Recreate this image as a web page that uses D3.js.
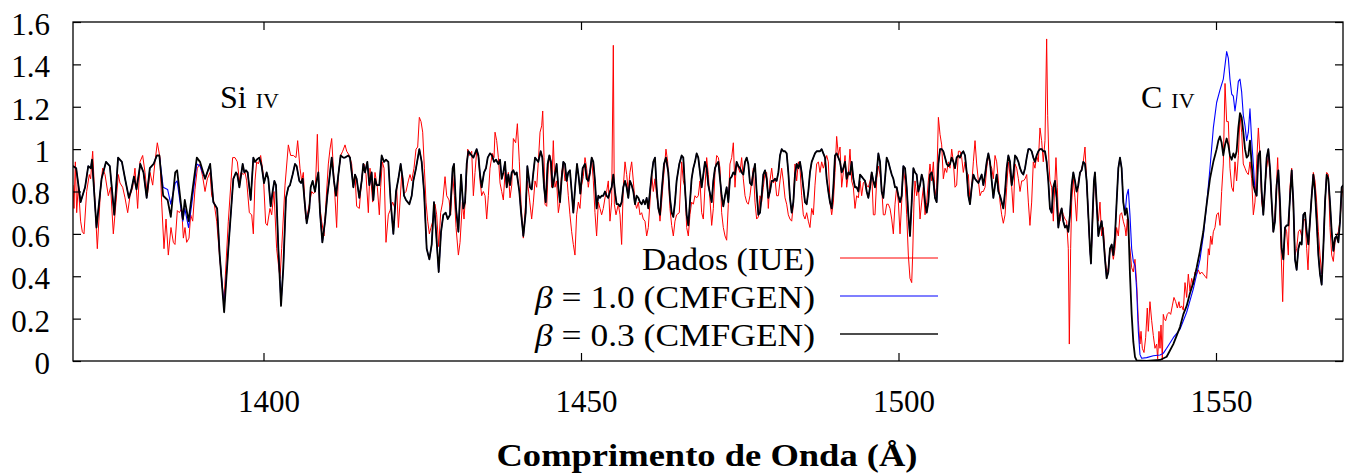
<!DOCTYPE html>
<html><head><meta charset="utf-8">
<script src="https://cdn.jsdelivr.net/npm/d3@7"></script>
<style>
body{margin:0;background:#fff}
svg{display:block}
text{font-family:"Liberation Serif","Times New Roman",serif;fill:#000}
</style>
</head><body>
<svg id="chart" width="1351" height="476"></svg>
<script>
// ---------- data ----------
const wlDomain = [1370, 1570];
const fluxDomain = [0, 1.6];
const wlTicks = [1400, 1450, 1500, 1550];
const fluxTicks = [0, 0.2, 0.4, 0.6, 0.8, 1, 1.2, 1.4, 1.6];
const seriesNames = ["Dados (IUE)", "β = 1.0 (CMFGEN)", "β = 0.3 (CMFGEN)"];

// observed spectrum (IUE) [wavelength Å, normalised flux]
const dadosIUE = [
[1370.0,0.83],[1370.16,0.72],[1370.37,0.94],[1370.58,0.70],[1370.84,0.83],[1371.2,0.66],[1371.47,0.61],[1371.73,0.60],[1372.15,0.80],[1372.57,0.88],[1372.78,0.86],[1373.1,0.99],[1373.46,0.75],[1373.83,0.53],[1374.36,0.82],[1374.67,0.91],[1375.04,0.88],[1375.56,0.78],[1375.93,0.82],[1376.35,0.60],[1376.77,0.75],[1377.14,0.88],[1377.4,0.84],[1377.82,0.82],[1378.19,0.77],[1378.61,0.70],[1378.98,0.78],[1379.4,0.82],[1379.76,0.91],[1380.18,0.72],[1380.55,0.94],[1380.97,0.97],[1381.34,0.89],[1381.7,0.78],[1382.13,0.89],[1382.55,0.83],[1382.91,0.94],[1383.28,1.03],[1383.7,0.96],[1383.96,0.75],[1384.33,0.53],[1384.65,0.67],[1385.01,0.50],[1385.43,0.63],[1385.8,0.56],[1386.06,0.55],[1386.43,0.71],[1386.75,0.70],[1387.11,0.72],[1387.38,0.58],[1387.64,0.63],[1387.9,0.56],[1388.27,0.58],[1388.53,0.69],[1388.85,0.66],[1389.21,0.81],[1389.58,0.91],[1390.0,0.93],[1390.42,0.87],[1390.79,0.80],[1391.16,0.86],[1391.58,0.89],[1391.84,0.78],[1392.2,0.75],[1392.63,0.66],[1393.15,0.47],[1393.75,0.27],
[1394.46,0.66],[1395.14,0.96],[1395.51,0.96],[1395.88,0.94],[1396.2,0.85],[1396.46,0.89],[1396.82,0.88],[1397.09,0.89],[1397.35,0.85],[1397.77,0.70],[1398.14,0.69],[1398.4,0.60],[1398.66,0.85],[1398.92,0.94],[1399.19,0.93],[1399.55,0.97],[1399.97,0.88],[1400.34,0.65],[1400.6,0.64],[1401.02,0.72],[1401.29,0.69],[1401.65,0.80],[1402.07,0.53],[1402.6,0.39],[1402.86,0.53],[1403.39,0.83],[1403.91,1.02],[1404.28,0.97],[1404.7,0.97],[1405.12,0.96],[1405.38,1.04],[1405.75,0.91],[1406.01,0.85],[1406.27,0.89],[1406.64,0.67],[1406.9,0.69],[1407.22,0.74],[1407.59,0.80],[1407.85,0.79],[1408.16,0.80],[1408.48,1.07],[1408.79,0.75],[1409.16,0.66],[1409.53,0.59],[1409.84,0.75],[1410.21,0.93],[1410.47,1.00],[1410.74,1.05],[1411.0,0.91],[1411.26,0.77],[1411.52,0.63],[1411.79,0.88],[1412.15,0.97],[1412.47,0.99],[1412.84,1.02],[1413.1,0.99],[1413.52,0.97],[1413.89,0.93],[1414.15,0.82],[1414.41,0.88],[1414.67,0.73],[1415.09,0.72],[1415.3,0.80],[1415.56,0.88],[1415.83,0.93],[1416.14,0.88],[1416.51,0.70],[1416.77,0.91],[1417.19,0.75],[1417.56,0.89],[1417.93,0.82],[1418.24,0.69],[1418.45,0.82],[1418.71,0.94],[1418.98,0.91],[1419.29,0.56],[1419.66,0.69],[1419.92,0.71],
[1420.34,0.75],[1420.71,0.72],[1420.97,0.82],[1421.24,0.63],[1421.5,0.75],[1421.76,0.88],[1422.13,0.79],[1422.44,0.80],[1422.81,0.85],[1423.07,0.88],[1423.34,0.85],[1423.7,0.91],[1424.02,1.00],[1424.28,1.01],[1424.54,1.15],[1424.81,1.13],[1425.07,1.08],[1425.33,0.91],[1425.59,0.75],[1425.86,0.66],[1426.12,0.60],[1426.38,0.63],[1426.75,0.67],[1427.01,0.74],[1427.27,0.69],[1427.59,0.54],[1427.9,0.70],[1428.22,0.75],[1428.59,0.87],[1428.85,0.78],[1429.22,0.76],[1429.48,0.69],[1429.79,0.88],[1430.06,0.78],[1430.32,0.63],[1430.69,0.50],[1430.95,0.56],[1431.32,0.75],[1431.58,0.67],[1431.89,0.82],[1432.16,1.00],[1432.42,0.97],[1432.79,0.99],[1433.05,0.78],[1433.31,0.89],[1433.57,0.99],[1433.89,0.96],[1434.1,0.85],[1434.36,0.78],[1434.62,0.80],[1434.89,0.78],[1435.15,0.67],[1435.41,0.78],[1435.67,0.91],[1436.04,0.98],[1436.3,0.96],[1436.46,1.08],[1436.72,1.04],[1436.99,0.96],[1437.25,0.84],[1437.51,0.80],[1437.77,0.76],[1438.04,0.89],[1438.3,0.82],[1438.56,0.89],[1438.82,0.77],[1439.09,0.83],[1439.35,1.05],[1439.71,1.03],[1439.98,1.12],[1440.29,0.94],[1440.56,0.74],[1440.92,0.58],[1441.29,0.75],[1441.55,0.85],[1441.87,0.77],[1442.23,0.67],[1442.5,0.75],[1442.76,0.85],[1443.02,0.82],[1443.28,0.94],[1443.55,1.08],[1443.81,1.11],[1443.97,1.18],[1444.18,0.96],[1444.33,0.74],[1444.6,0.73],[1444.86,0.93],[1445.12,0.97],
[1445.38,0.82],[1445.64,1.04],[1445.9,0.82],[1446.16,0.85],[1446.43,0.70],[1446.69,0.75],[1446.95,0.89],[1447.21,0.93],[1447.48,0.85],[1447.74,0.88],[1448.0,0.78],[1448.26,0.69],[1448.53,0.61],[1448.79,0.55],[1449.05,0.50],[1449.31,0.69],[1449.58,0.75],[1449.84,0.72],[1450.1,0.83],[1450.36,0.87],[1450.63,0.96],[1450.89,0.91],[1451.15,0.82],[1451.41,0.88],[1451.68,0.96],[1451.94,0.85],[1452.2,0.70],[1452.46,0.59],[1452.73,0.75],[1452.99,0.72],[1453.25,0.69],[1453.51,0.72],[1453.78,0.77],[1454.04,0.80],[1454.3,0.85],[1454.56,0.66],[1454.83,0.75],[1455.09,1.49],[1455.25,0.74],[1455.51,0.69],[1455.88,0.74],[1456.14,0.69],[1456.4,0.55],[1456.66,0.82],[1456.93,0.94],[1457.19,0.88],[1457.45,0.80],[1457.71,0.89],[1457.98,0.94],[1458.24,0.85],[1458.5,0.75],[1458.76,0.72],[1459.03,0.75],[1459.29,0.69],[1459.55,0.70],[1459.81,0.67],[1460.08,0.66],[1460.34,0.59],[1460.6,0.63],[1460.86,0.75],[1461.13,0.88],[1461.39,0.80],[1461.65,0.86],[1461.91,0.78],[1462.18,0.74],[1462.44,0.66],[1462.7,0.75],[1462.96,0.85],[1463.38,1.00],[1463.65,0.94],[1464.01,0.72],[1464.28,0.64],[1464.54,0.59],[1464.8,0.66],[1465.06,0.69],[1465.48,0.70],[1465.85,0.94],[1466.11,0.85],[1466.37,0.82],[1466.64,0.63],[1466.9,0.59],[1467.16,0.69],[1467.42,0.75],[1467.69,0.74],[1467.95,0.78],[1468.21,0.77],[1468.47,0.78],[1468.74,0.85],[1469.0,0.70],[1469.26,0.67],[1469.52,0.82],[1469.79,0.96],[1470.05,0.88],
[1470.58,0.64],[1470.84,0.72],[1471.1,0.89],[1471.37,0.97],[1471.63,0.96],[1471.89,0.91],[1472.15,0.70],[1472.41,0.63],[1472.68,0.59],[1472.94,0.57],[1473.2,0.74],[1473.46,0.93],[1473.73,0.96],[1473.99,1.03],[1474.25,0.82],[1474.51,0.94],[1474.78,0.91],[1475.04,0.89],[1475.3,0.96],[1475.56,0.86],[1475.83,0.78],[1476.09,0.75],[1476.35,0.74],[1476.61,0.78],[1476.88,0.85],[1477.14,0.91],[1477.4,0.75],[1477.66,0.67],[1477.93,0.68],[1478.19,0.78],[1478.45,0.75],[1478.71,0.82],[1478.98,0.89],[1479.24,0.89],[1479.5,0.72],[1479.76,0.85],[1480.03,0.91],[1480.29,0.84],[1480.55,0.86],[1480.81,0.78],[1481.08,0.78],[1481.34,0.85],[1481.6,0.91],[1481.86,0.85],[1482.13,0.77],[1482.39,0.74],[1482.65,0.69],[1482.91,0.67],[1483.18,0.66],[1483.44,0.74],[1483.7,0.93],[1483.96,0.85],[1484.23,0.94],[1484.49,0.91],[1484.75,0.78],[1485.01,0.69],[1485.28,0.67],[1485.54,0.70],[1485.8,0.66],[1486.06,0.63],[1486.33,0.72],[1486.59,0.69],[1486.85,0.83],[1487.11,0.93],[1487.38,0.94],[1487.64,0.89],[1487.9,0.94],[1488.16,0.91],[1488.43,0.94],[1488.69,0.97],[1488.95,0.94],[1489.21,0.75],[1489.48,0.69],[1489.74,0.75],[1490.0,0.89],[1490.26,1.06],[1490.53,0.97],[1490.79,1.01],[1491.05,0.82],[1491.31,0.89],[1491.58,0.97],[1491.84,0.82],[1492.1,0.88],[1492.36,1.00],[1492.63,0.85],[1492.89,0.82],[1493.15,0.72],[1493.41,0.78],[1493.68,0.77],[1493.94,0.85],[1494.2,0.78],[1494.46,0.84],[1494.73,0.85],[1494.99,0.83],
[1495.25,0.82],[1495.52,0.85],[1495.78,0.89],[1496.04,0.69],[1496.3,0.69],[1496.57,0.86],[1496.83,0.92],[1497.09,0.88],[1497.35,0.82],[1497.61,0.69],[1497.88,0.69],[1498.14,0.74],[1498.4,0.74],[1498.66,0.72],[1498.93,0.67],[1499.19,0.60],[1499.45,0.74],[1499.71,0.82],[1499.98,0.75],[1500.24,0.60],[1500.5,0.75],[1500.76,0.91],[1501.03,0.85],[1501.29,0.69],[1501.55,0.50],[1501.81,0.39],[1502.08,0.37],[1502.23,0.50],[1502.44,0.75],[1502.6,0.85],[1502.86,0.78],[1503.13,0.83],[1503.39,0.67],[1503.65,0.75],[1503.91,0.82],[1504.18,0.69],[1504.44,0.75],[1504.7,0.85],[1504.96,0.93],[1505.23,0.85],[1505.49,0.94],[1505.75,0.78],[1506.01,0.82],[1506.28,1.15],[1506.54,1.07],[1506.8,1.02],[1507.06,0.86],[1507.33,0.91],[1507.59,0.89],[1507.85,0.94],[1508.11,0.91],[1508.38,1.00],[1508.64,0.94],[1508.9,0.82],[1509.16,0.83],[1509.43,0.99],[1509.69,0.99],[1509.95,0.96],[1510.21,0.89],[1510.48,0.94],[1510.74,0.89],[1511.0,0.88],[1511.26,0.75],[1511.53,0.83],[1511.79,0.94],[1512.05,1.04],[1512.31,0.93],[1512.58,0.85],[1512.84,0.78],[1513.1,0.80],[1513.36,0.80],[1513.63,0.82],[1513.89,0.91],[1514.15,0.97],[1514.41,0.93],[1514.68,0.91],[1514.94,0.86],[1515.2,0.97],[1515.46,0.94],[1515.73,0.85],[1515.99,0.75],[1516.25,0.69],[1516.51,0.65],[1516.78,0.69],[1517.04,0.82],[1517.3,0.94],[1517.56,0.88],[1517.83,0.82],[1518.09,0.70],[1518.35,0.93],[1518.61,0.91],[1518.88,0.86],[1519.14,0.80],[1519.4,0.85],[1519.66,0.85],[1519.93,0.86],[1520.19,0.88],[1520.45,0.75],
[1520.7,0.64],[1520.97,0.75],[1521.23,0.94],[1521.49,0.91],[1521.75,0.97],[1522.02,0.94],[1522.28,1.10],[1522.54,1.04],[1522.8,0.94],[1523.07,1.04],[1523.33,1.52],[1523.49,1.16],[1523.7,0.93],[1523.85,0.85],[1524.12,0.82],[1524.38,0.66],[1524.64,0.85],[1524.8,0.96],[1525.01,0.82],[1525.17,0.69],[1525.43,0.66],[1525.69,0.72],[1525.95,0.69],[1526.22,0.67],[1526.48,0.66],[1526.74,0.53],[1526.9,0.08],[1527.11,0.53],[1527.27,0.75],[1527.53,0.86],[1527.79,0.77],[1528.05,0.66],[1528.32,0.85],[1528.58,0.88],[1528.84,0.91],[1529.1,0.94],[1529.37,1.01],[1529.63,0.85],[1529.89,0.69],[1530.15,0.53],[1530.31,0.47],[1530.57,0.66],[1530.78,0.82],[1530.94,0.88],[1531.2,0.72],[1531.47,0.66],[1531.73,0.75],[1531.99,0.59],[1532.25,0.63],[1532.52,0.50],[1532.78,0.41],[1533.04,0.44],[1533.3,0.53],[1533.57,0.53],[1533.83,0.48],[1534.09,0.53],[1534.35,0.63],[1534.62,0.59],[1534.88,0.69],[1535.14,0.70],[1535.4,0.66],[1535.67,0.63],[1535.83,0.59],[1536.03,0.67],[1536.24,0.58],[1536.45,0.53],[1536.72,0.44],[1536.98,0.42],[1537.24,0.48],[1537.5,0.37],[1537.77,0.19],[1538.03,0.08],[1538.19,0.14],[1538.4,0.06],[1538.66,0.04],[1538.92,0.11],[1539.18,0.25],[1539.34,0.14],[1539.6,0.28],[1539.87,0.19],[1540.13,0.12],[1540.39,0.06],[1540.65,0.08],[1540.81,0.01],[1541.02,0.14],[1541.18,0.06],[1541.34,0.17],[1541.55,0.005],[1541.7,0.22],[1541.86,0.20],[1542.07,0.19],[1542.33,0.22],[1542.6,0.23],[1542.86,0.22],[1543.12,0.26],[1543.38,0.30],[1543.65,0.28],[1543.91,0.25],[1544.17,0.28],
[1544.33,0.25],[1544.59,0.26],[1544.85,0.24],[1545.12,0.37],[1545.38,0.30],[1545.64,0.41],[1545.9,0.33],[1546.17,0.39],[1546.43,0.36],[1546.69,0.42],[1546.95,0.41],[1547.22,0.43],[1547.48,0.41],[1547.74,0.42],[1548.0,0.41],[1548.27,0.40],[1548.53,0.39],[1548.79,0.53],[1548.95,0.50],[1549.16,0.59],[1549.37,0.55],[1549.58,0.61],[1549.84,0.63],[1550.1,0.69],[1550.37,0.70],[1550.63,0.64],[1550.89,0.80],[1551.15,0.93],[1551.42,1.31],[1551.68,1.13],[1551.94,1.13],[1552.2,0.91],[1552.47,0.82],[1552.73,0.80],[1552.99,0.94],[1553.25,0.85],[1553.52,0.97],[1553.78,1.16],[1554.04,1.08],[1554.3,0.93],[1554.57,0.91],[1554.83,0.89],[1555.09,0.88],[1555.35,0.94],[1555.62,0.86],[1555.88,0.69],[1556.14,0.75],[1556.4,0.93],[1556.67,1.10],[1556.93,0.97],[1557.19,0.75],[1557.45,0.70],[1557.72,0.83],[1557.98,0.91],[1558.24,0.97],[1558.5,0.89],[1558.77,0.74],[1559.03,0.61],[1559.29,0.70],[1559.55,0.85],[1559.71,0.96],[1559.97,0.75],[1560.24,0.53],[1560.5,0.28],[1560.71,0.53],[1560.92,0.63],[1561.13,0.61],[1561.39,0.50],[1561.65,0.82],[1561.92,0.91],[1562.18,0.72],[1562.44,0.50],[1562.7,0.53],[1562.97,0.61],[1563.23,0.62],[1563.49,0.59],[1563.75,0.66],[1564.02,0.67],[1564.28,0.53],[1564.49,0.43],[1564.8,0.66],[1565.07,0.78],[1565.33,0.89],[1565.59,0.85],[1565.85,0.75],[1566.12,0.61],[1566.38,0.50],[1566.64,0.41],[1566.9,0.53],[1567.17,0.75],[1567.43,0.89],[1567.69,0.88],[1567.95,0.63],[1568.22,0.50],[1568.48,0.47],[1568.74,0.56],[1569.0,0.59],[1569.27,0.61],[1569.53,0.66],[1569.79,0.77],[1570.05,0.83]
];

// CMFGEN model, beta = 1.0
const beta10 = [
[1370.0,0.92],[1370.5,0.91],[1371.2,0.75],[1371.9,0.82],[1372.4,0.92],[1372.8,0.91],[1373.0,0.95],[1373.7,0.63],[1374.5,0.86],[1375.2,0.94],[1375.8,0.92],[1376.5,0.69],[1377.1,0.96],[1377.7,0.94],[1378.2,0.86],[1378.8,0.77],[1379.2,0.81],[1379.6,0.87],[1380.0,0.81],[1380.6,0.93],[1381.1,0.89],[1381.6,0.77],[1382.1,0.91],[1382.7,0.93],[1383.2,0.97],[1383.6,0.97],[1384.2,0.82],[1384.9,0.81],[1385.4,0.74],[1386.1,0.84],[1386.4,0.85],[1387.0,0.72],[1387.3,0.66],[1387.6,0.72],[1388.2,0.63],[1388.7,0.74],[1389.5,0.93],[1390.0,0.92],[1390.8,0.86],[1391.6,0.93],[1392.1,0.75],[1392.7,0.72],[1393.1,0.50],[1393.8,0.25],
[1394.46,0.53],[1395.25,0.86],[1395.67,0.89],[1395.88,0.88],[1396.2,0.82],[1396.72,0.93],[1396.98,0.89],[1397.24,0.90],[1397.51,0.89],[1397.98,0.76],[1398.4,0.96],[1398.66,0.94],[1398.92,0.95],[1399.34,0.96],[1399.71,0.92],[1400.08,0.84],[1400.5,0.89],[1400.76,0.86],[1401.13,0.73],[1401.44,0.80],[1401.71,0.85],[1401.97,0.83],[1402.34,0.53],[1402.76,0.27],[1403.12,0.44],[1403.54,0.77],[1403.91,0.82],[1404.17,0.83],[1404.59,0.88],[1404.96,0.93],[1405.22,0.92],[1405.64,0.85],[1405.91,0.84],[1406.17,0.86],[1406.48,0.75],[1406.8,0.65],[1407.22,0.72],[1407.43,0.82],[1407.74,0.85],[1408.11,0.80],[1408.37,0.85],[1408.64,0.89],[1408.9,0.70],[1409.27,0.56],[1409.69,0.66],[1410.05,0.78],[1410.37,0.86],[1410.74,0.96],[1411.1,0.85],[1411.42,0.78],[1411.79,0.88],[1412.15,0.97],[1412.57,0.96],[1412.84,0.96],[1413.36,0.97],[1413.62,0.96],[1413.89,0.89],[1414.15,0.82],[1414.41,0.88],[1414.67,0.86],[1415.09,0.77],[1415.46,0.85],[1415.72,0.93],[1415.99,0.89],[1416.35,0.94],[1416.67,0.83],[1417.03,0.89],[1417.3,0.76],[1417.56,0.86],[1417.82,0.83],[1418.24,0.83],[1418.61,0.97],
[1418.98,0.94],[1419.29,0.95],[1419.66,0.94],[1420.03,0.75],[1420.45,0.60],[1420.87,0.80],[1421.24,0.86],[1421.6,0.93],[1421.92,0.86],[1422.13,0.78],[1422.44,0.76],[1422.71,0.75],[1422.97,0.74],[1423.34,0.78],[1423.6,0.85],[1424.02,0.91],[1424.54,1.00],[1424.91,0.94],[1425.28,0.80],[1425.7,0.53],[1426.12,0.48],[1426.49,0.55],[1426.85,0.75],[1427.17,0.61],[1427.59,0.42],[1427.96,0.61],[1428.32,0.69],[1428.69,0.70],[1429.01,0.67],[1429.37,0.69],[1429.79,0.91],[1430.0,0.93],[1430.32,0.72],[1430.69,0.61],[1431.11,0.88],[1431.47,0.72],[1431.74,0.75],[1432.0,0.93],[1432.26,0.99],[1432.52,0.98],[1432.79,0.97],[1433.05,0.96],[1433.31,0.98],[1433.57,1.00],[1433.84,0.97],[1434.1,0.88],[1434.36,0.82],[1434.73,0.89],[1435.04,0.91],[1435.31,0.96],[1435.67,0.98],[1435.99,0.97],[1436.3,0.94],[1436.62,0.95],[1436.99,0.93],[1437.25,0.95],[1437.51,0.86],[1437.77,0.89],[1438.04,0.94],[1438.3,0.82],[1438.56,0.88],[1438.82,0.83],[1439.09,0.89],[1439.35,0.90],[1439.61,0.88],[1439.87,0.89],[1440.29,0.80],[1440.56,0.70],[1440.92,0.59],[1441.29,0.70],[1441.55,0.92],[1441.97,0.82],[1442.23,0.81],[1442.5,0.89],[1442.76,0.96],[1443.02,0.95],[1443.28,0.94],[1443.65,0.99],[1443.91,0.96],[1444.18,0.82],[1444.44,0.75],[1444.75,0.93],[1445.01,0.97],
[1445.27,0.94],[1445.53,0.82],[1445.9,0.88],[1446.16,0.93],[1446.43,0.82],[1446.69,0.75],[1446.95,0.86],[1447.21,0.94],[1447.48,0.93],[1447.74,0.85],[1448.0,0.89],[1448.26,0.90],[1448.53,0.80],[1448.79,0.70],[1449.1,0.83],[1449.37,0.93],[1449.63,0.87],[1449.89,0.79],[1450.26,0.91],[1450.63,0.93],[1450.89,0.86],[1451.15,0.85],[1451.41,0.89],[1451.68,0.96],[1451.94,0.94],[1452.2,0.85],[1452.46,0.72],[1452.73,0.78],[1452.99,0.77],[1453.25,0.78],[1453.51,0.78],[1453.78,0.80],[1454.04,0.78],[1454.3,0.77],[1454.56,0.80],[1454.83,0.82],[1455.09,0.88],[1455.35,0.80],[1455.61,0.74],[1455.88,0.74],[1456.14,0.73],[1456.4,0.75],[1456.66,0.82],[1456.93,0.85],[1457.19,0.82],[1457.45,0.77],[1457.71,0.85],[1457.98,0.83],[1458.24,0.80],[1458.5,0.74],[1458.76,0.78],[1459.03,0.77],[1459.29,0.75],[1459.55,0.74],[1459.81,0.76],[1460.08,0.74],[1460.34,0.77],[1460.6,0.72],[1460.86,0.80],[1461.13,0.88],[1461.39,0.94],[1461.65,0.96],[1461.91,0.82],[1462.18,0.72],[1462.44,0.69],[1462.7,0.80],[1463.07,0.93],[1463.38,0.96],[1463.75,0.89],[1464.01,0.77],[1464.28,0.70],[1464.54,0.68],[1464.8,0.75],[1465.06,0.85],[1465.48,0.93],[1465.85,0.97],[1466.11,0.96],[1466.37,0.82],[1466.64,0.69],[1466.9,0.64],[1467.16,0.75],[1467.42,0.86],[1467.69,0.91],[1467.95,0.94],[1468.21,0.98],[1468.47,0.96],[1468.74,0.89],[1469.0,0.82],[1469.26,0.88],[1469.52,0.94],[1469.79,0.91],[1470.05,0.83],
[1470.58,0.75],[1470.84,0.85],[1471.1,0.91],[1471.37,0.93],[1471.63,0.94],[1471.89,0.86],[1472.15,0.78],[1472.41,0.73],[1472.68,0.78],[1472.94,0.82],[1473.2,0.75],[1473.46,0.86],[1473.73,0.87],[1473.99,0.89],[1474.25,0.88],[1474.51,0.94],[1474.78,0.92],[1475.04,0.91],[1475.3,0.89],[1475.56,0.88],[1475.83,0.94],[1476.09,0.96],[1476.35,0.93],[1476.61,0.84],[1476.88,0.83],[1477.14,0.89],[1477.4,0.93],[1477.66,0.80],[1477.93,0.69],[1478.19,0.70],[1478.45,0.78],[1478.71,0.88],[1478.98,0.90],[1479.24,0.86],[1479.5,0.77],[1479.76,0.80],[1480.03,0.85],[1480.29,0.85],[1480.55,0.86],[1480.81,0.85],[1481.08,0.89],[1481.34,0.97],[1481.6,1.00],[1481.86,0.99],[1482.13,0.99],[1482.39,0.98],[1482.65,0.89],[1482.91,0.77],[1483.18,0.70],[1483.44,0.75],[1483.7,0.88],[1483.96,0.93],[1484.23,0.91],[1484.49,0.94],[1484.75,0.89],[1485.01,0.82],[1485.28,0.75],[1485.54,0.74],[1485.8,0.80],[1486.06,0.89],[1486.33,0.94],[1486.59,0.96],[1486.85,0.98],[1487.11,0.99],[1487.38,0.99],[1487.64,0.99],[1487.9,1.00],[1488.16,0.98],[1488.43,0.96],[1488.69,0.86],[1488.95,0.80],[1489.21,0.75],[1489.48,0.72],[1489.74,0.82],[1490.0,0.97],[1490.26,0.98],[1490.53,0.96],[1490.79,0.94],[1491.05,0.89],[1491.31,0.91],[1491.58,0.94],[1491.84,0.86],[1492.1,0.89],[1492.36,0.88],[1492.63,0.94],[1492.89,0.86],[1493.15,0.82],[1493.41,0.82],[1493.68,0.80],[1493.94,0.88],[1494.2,0.87],[1494.46,0.86],[1494.73,0.85],
[1494.99,0.80],[1495.25,0.77],[1495.52,0.82],[1495.78,0.89],[1496.04,0.85],[1496.3,0.82],[1496.57,0.89],[1496.83,0.98],[1497.09,0.94],[1497.35,0.80],[1497.61,0.77],[1497.88,0.86],[1498.14,0.96],[1498.4,0.94],[1498.66,0.91],[1498.93,0.88],[1499.19,0.86],[1499.45,0.82],[1499.71,0.82],[1499.98,0.78],[1500.24,0.75],[1500.5,0.78],[1500.76,0.92],[1501.03,0.91],[1501.29,0.82],[1501.55,0.69],[1501.81,0.59],[1502.08,0.75],[1502.34,0.91],[1502.6,0.89],[1502.86,0.88],[1503.13,0.80],[1503.39,0.83],[1503.65,0.88],[1503.91,0.85],[1504.18,0.75],[1504.44,0.70],[1504.7,0.75],[1504.96,0.88],[1505.23,0.89],[1505.49,0.85],[1505.75,0.77],[1506.01,0.75],[1506.28,0.93],[1506.54,1.00],[1506.8,1.00],[1507.06,0.99],[1507.33,0.96],[1507.59,0.93],[1507.85,0.92],[1508.11,0.93],[1508.38,0.96],[1508.64,0.94],[1508.9,0.91],[1509.16,0.96],[1509.43,0.97],[1509.69,0.96],[1509.95,0.98],[1510.21,0.99],[1510.48,0.97],[1510.74,0.89],[1511.0,0.78],[1511.26,0.74],[1511.53,0.82],[1511.79,0.88],[1512.05,0.86],[1512.31,0.85],[1512.58,0.84],[1512.84,0.86],[1513.1,0.88],[1513.36,0.83],[1513.63,0.88],[1513.89,0.94],[1514.15,0.98],[1514.41,0.94],[1514.68,0.85],[1514.94,0.77],[1515.2,0.83],[1515.46,0.88],[1515.73,0.80],[1515.99,0.78],[1516.25,0.75],[1516.51,0.72],[1516.78,0.80],[1517.04,0.91],[1517.3,0.97],[1517.56,0.94],[1517.83,0.83],[1518.09,0.88],[1518.35,0.97],[1518.61,0.96],[1518.88,0.94],[1519.14,0.91],[1519.4,0.89],[1519.66,0.88],[1519.93,0.91],[1520.19,0.96],[1520.45,1.00],
[1520.7,1.00],[1520.97,0.99],[1521.23,0.96],[1521.49,0.94],[1521.75,0.97],[1522.02,0.99],[1522.28,1.00],[1522.54,1.00],[1522.8,0.99],[1523.07,0.99],[1523.33,0.94],[1523.59,0.85],[1523.85,0.72],[1524.12,0.70],[1524.38,0.82],[1524.64,0.85],[1524.9,0.77],[1525.17,0.63],[1525.43,0.69],[1525.69,0.72],[1525.95,0.66],[1526.22,0.63],[1526.48,0.64],[1526.74,0.61],[1527.0,0.69],[1527.27,0.83],[1527.53,0.89],[1527.79,0.85],[1528.05,0.80],[1528.32,0.83],[1528.58,0.89],[1528.84,0.90],[1529.1,0.94],[1529.37,0.93],[1529.63,0.85],[1529.89,0.69],[1530.15,0.53],[1530.31,0.46],[1530.57,0.69],[1530.78,0.85],[1530.94,0.89],[1531.2,0.75],[1531.47,0.59],[1531.73,0.63],[1531.99,0.66],[1532.25,0.59],[1532.52,0.48],[1532.78,0.39],[1533.04,0.42],[1533.3,0.53],[1533.57,0.55],[1533.83,0.50],[1534.09,0.59],[1534.35,0.75],[1534.62,0.91],[1534.88,0.96],[1535.14,0.91],[1535.4,0.75],[1535.67,0.69],[1535.93,0.78],[1536.19,0.81],[1536.45,0.69],[1536.72,0.53],[1536.98,0.47],[1537.24,0.45],[1537.5,0.34],[1537.77,0.14],[1538.03,0.03],[1538.29,0.013],[1539.08,0.016],[1540.13,0.025],[1541.18,0.028],[1541.7,0.036],[1542.23,0.06],[1543.28,0.11],
[1544.33,0.15],[1545.38,0.23],[1546.43,0.34],[1547.48,0.48],[1548.0,0.59],[1548.53,0.74],[1549.05,0.91],[1549.58,1.10],[1550.1,1.22],[1550.63,1.28],[1551.15,1.33],[1551.68,1.46],[1551.94,1.43],[1552.2,1.33],[1552.47,1.26],[1552.73,1.25],[1552.99,1.18],[1553.25,1.24],[1553.52,1.32],[1553.78,1.33],[1554.04,1.27],[1554.3,1.16],[1554.57,1.11],[1554.83,1.04],[1555.09,1.08],[1555.35,1.19],[1555.62,1.04],[1555.88,0.93],[1556.14,0.80],[1556.4,0.78],[1556.67,0.97],[1556.93,0.99],[1557.19,0.80],[1557.45,0.69],[1557.72,0.82],[1557.98,0.96],[1558.24,1.00],[1558.5,0.91],[1558.77,0.75],[1559.03,0.61],[1559.29,0.66],[1559.55,0.83],[1559.82,0.90],[1560.08,0.75],[1560.34,0.53],[1560.6,0.48],[1560.87,0.63],[1561.13,0.64],[1561.39,0.64],[1561.65,0.77],[1561.92,0.90],[1562.18,0.75],[1562.44,0.48],[1562.7,0.43],[1562.97,0.53],[1563.23,0.56],[1563.49,0.55],[1563.75,0.69],[1564.02,0.70],[1564.28,0.61],[1564.54,0.55],[1564.8,0.66],[1565.07,0.78],[1565.33,0.88],[1565.59,0.80],[1565.85,0.66],[1566.12,0.50],[1566.38,0.41],[1566.64,0.36],[1566.9,0.53],[1567.17,0.75],[1567.43,0.88],[1567.69,0.86],[1567.95,0.75],[1568.22,0.61],[1568.48,0.52],[1568.74,0.58],[1569.0,0.59],[1569.27,0.56],[1569.53,0.66],[1569.79,0.82],[1570.05,0.83]
];

// CMFGEN model, beta = 0.3
const beta03 = [
[1370.0,0.92],[1370.5,0.91],[1371.2,0.75],[1371.9,0.82],[1372.4,0.92],[1372.8,0.91],[1373.0,0.95],[1373.7,0.63],[1374.5,0.86],[1375.2,0.94],[1375.8,0.92],[1376.5,0.69],[1377.1,0.96],[1377.7,0.94],[1378.2,0.86],[1378.8,0.77],[1379.2,0.81],[1379.6,0.87],[1380.0,0.81],[1380.6,0.93],[1381.1,0.89],[1381.6,0.77],[1382.1,0.91],[1382.7,0.93],[1383.2,0.97],[1383.6,0.97],[1384.2,0.78],[1384.9,0.76],[1385.4,0.68],[1386.1,0.89],[1386.4,0.90],[1387.0,0.74],[1387.3,0.67],[1387.6,0.76],[1388.2,0.66],[1388.7,0.78],[1389.5,0.96],[1390.0,0.94],[1390.8,0.86],[1391.6,0.93],[1392.1,0.75],[1392.7,0.72],[1393.1,0.50],[1393.8,0.23],
[1394.46,0.53],[1395.25,0.86],[1395.67,0.89],[1395.88,0.88],[1396.2,0.82],[1396.72,0.93],[1396.98,0.89],[1397.24,0.90],[1397.51,0.89],[1397.98,0.76],[1398.4,0.96],[1398.66,0.94],[1398.92,0.95],[1399.34,0.96],[1399.71,0.92],[1400.08,0.84],[1400.5,0.89],[1400.76,0.86],[1401.13,0.73],[1401.44,0.80],[1401.71,0.85],[1401.97,0.83],[1402.34,0.53],[1402.76,0.26],[1403.12,0.44],[1403.54,0.77],[1403.91,0.82],[1404.17,0.83],[1404.59,0.88],[1404.96,0.93],[1405.22,0.92],[1405.64,0.85],[1405.91,0.84],[1406.17,0.86],[1406.48,0.75],[1406.8,0.65],[1407.22,0.72],[1407.43,0.82],[1407.74,0.85],[1408.11,0.80],[1408.37,0.85],[1408.64,0.89],[1408.9,0.70],[1409.27,0.56],[1409.69,0.66],[1410.05,0.78],[1410.37,0.86],[1410.74,0.96],[1411.1,0.85],[1411.42,0.78],[1411.79,0.88],[1412.15,0.97],[1412.57,0.96],[1412.84,0.96],[1413.36,0.97],[1413.62,0.96],[1413.89,0.89],[1414.15,0.82],[1414.41,0.88],[1414.67,0.86],[1415.09,0.77],[1415.46,0.85],[1415.72,0.93],[1415.99,0.89],[1416.35,0.94],[1416.67,0.83],[1417.03,0.89],[1417.3,0.76],[1417.56,0.86],[1417.82,0.83],[1418.24,0.83],[1418.61,0.97],
[1418.98,0.94],[1419.29,0.95],[1419.66,0.94],[1420.03,0.75],[1420.45,0.60],[1420.87,0.80],[1421.24,0.86],[1421.6,0.93],[1421.92,0.86],[1422.13,0.78],[1422.44,0.76],[1422.71,0.75],[1422.97,0.74],[1423.34,0.78],[1423.6,0.85],[1424.02,0.91],[1424.54,1.00],[1424.91,0.94],[1425.28,0.80],[1425.7,0.53],[1426.12,0.48],[1426.49,0.55],[1426.85,0.75],[1427.17,0.61],[1427.59,0.42],[1427.96,0.61],[1428.32,0.69],[1428.69,0.70],[1429.01,0.67],[1429.37,0.69],[1429.79,0.91],[1430.0,0.93],[1430.32,0.72],[1430.69,0.61],[1431.11,0.88],[1431.47,0.72],[1431.74,0.75],[1432.0,0.93],[1432.26,0.99],[1432.52,0.98],[1432.79,0.97],[1433.05,0.96],[1433.31,0.98],[1433.57,1.00],[1433.84,0.97],[1434.1,0.88],[1434.36,0.82],[1434.73,0.89],[1435.04,0.91],[1435.31,0.96],[1435.67,0.98],[1435.99,0.97],[1436.3,0.94],[1436.62,0.95],[1436.99,0.93],[1437.25,0.95],[1437.51,0.86],[1437.77,0.89],[1438.04,0.94],[1438.3,0.82],[1438.56,0.88],[1438.82,0.83],[1439.09,0.89],[1439.35,0.90],[1439.61,0.88],[1439.87,0.89],[1440.29,0.80],[1440.56,0.70],[1440.92,0.59],[1441.29,0.70],[1441.55,0.92],[1441.97,0.82],[1442.23,0.81],[1442.5,0.89],[1442.76,0.96],[1443.02,0.95],[1443.28,0.94],[1443.65,0.99],[1443.91,0.96],[1444.18,0.82],[1444.44,0.75],[1444.75,0.93],[1445.01,0.97],
[1445.27,0.94],[1445.53,0.82],[1445.9,0.88],[1446.16,0.93],[1446.43,0.82],[1446.69,0.75],[1446.95,0.86],[1447.21,0.94],[1447.48,0.93],[1447.74,0.85],[1448.0,0.89],[1448.26,0.90],[1448.53,0.80],[1448.79,0.70],[1449.1,0.83],[1449.37,0.93],[1449.63,0.87],[1449.89,0.79],[1450.26,0.91],[1450.63,0.93],[1450.89,0.86],[1451.15,0.85],[1451.41,0.89],[1451.68,0.96],[1451.94,0.94],[1452.2,0.85],[1452.46,0.72],[1452.73,0.78],[1452.99,0.77],[1453.25,0.78],[1453.51,0.78],[1453.78,0.80],[1454.04,0.78],[1454.3,0.77],[1454.56,0.80],[1454.83,0.82],[1455.09,0.88],[1455.35,0.80],[1455.61,0.74],[1455.88,0.74],[1456.14,0.73],[1456.4,0.75],[1456.66,0.82],[1456.93,0.85],[1457.19,0.82],[1457.45,0.77],[1457.71,0.85],[1457.98,0.83],[1458.24,0.80],[1458.5,0.74],[1458.76,0.78],[1459.03,0.77],[1459.29,0.75],[1459.55,0.74],[1459.81,0.76],[1460.08,0.74],[1460.34,0.77],[1460.6,0.72],[1460.86,0.80],[1461.13,0.88],[1461.39,0.94],[1461.65,0.96],[1461.91,0.82],[1462.18,0.72],[1462.44,0.69],[1462.7,0.80],[1463.07,0.93],[1463.38,0.96],[1463.75,0.89],[1464.01,0.77],[1464.28,0.70],[1464.54,0.68],[1464.8,0.75],[1465.06,0.85],[1465.48,0.93],[1465.85,0.97],[1466.11,0.96],[1466.37,0.82],[1466.64,0.69],[1466.9,0.64],[1467.16,0.75],[1467.42,0.86],[1467.69,0.91],[1467.95,0.94],[1468.21,0.98],[1468.47,0.96],[1468.74,0.89],[1469.0,0.82],[1469.26,0.88],[1469.52,0.94],[1469.79,0.91],[1470.05,0.83],
[1470.58,0.75],[1470.84,0.85],[1471.1,0.91],[1471.37,0.93],[1471.63,0.94],[1471.89,0.86],[1472.15,0.78],[1472.41,0.73],[1472.68,0.78],[1472.94,0.82],[1473.2,0.75],[1473.46,0.86],[1473.73,0.87],[1473.99,0.89],[1474.25,0.88],[1474.51,0.94],[1474.78,0.92],[1475.04,0.91],[1475.3,0.89],[1475.56,0.88],[1475.83,0.94],[1476.09,0.96],[1476.35,0.93],[1476.61,0.84],[1476.88,0.83],[1477.14,0.89],[1477.4,0.93],[1477.66,0.80],[1477.93,0.69],[1478.19,0.70],[1478.45,0.78],[1478.71,0.88],[1478.98,0.90],[1479.24,0.86],[1479.5,0.77],[1479.76,0.80],[1480.03,0.85],[1480.29,0.85],[1480.55,0.86],[1480.81,0.85],[1481.08,0.89],[1481.34,0.97],[1481.6,1.00],[1481.86,0.99],[1482.13,0.99],[1482.39,0.98],[1482.65,0.89],[1482.91,0.77],[1483.18,0.70],[1483.44,0.75],[1483.7,0.88],[1483.96,0.93],[1484.23,0.91],[1484.49,0.94],[1484.75,0.89],[1485.01,0.82],[1485.28,0.75],[1485.54,0.74],[1485.8,0.80],[1486.06,0.89],[1486.33,0.94],[1486.59,0.96],[1486.85,0.98],[1487.11,0.99],[1487.38,0.99],[1487.64,0.99],[1487.9,1.00],[1488.16,0.98],[1488.43,0.96],[1488.69,0.86],[1488.95,0.80],[1489.21,0.75],[1489.48,0.72],[1489.74,0.82],[1490.0,0.97],[1490.26,0.98],[1490.53,0.96],[1490.79,0.94],[1491.05,0.89],[1491.31,0.91],[1491.58,0.94],[1491.84,0.86],[1492.1,0.89],[1492.36,0.88],[1492.63,0.94],[1492.89,0.86],[1493.15,0.82],[1493.41,0.82],[1493.68,0.80],[1493.94,0.88],[1494.2,0.87],[1494.46,0.86],[1494.73,0.85],
[1494.99,0.80],[1495.25,0.77],[1495.52,0.82],[1495.78,0.89],[1496.04,0.85],[1496.3,0.82],[1496.57,0.89],[1496.83,0.98],[1497.09,0.94],[1497.35,0.80],[1497.61,0.77],[1497.88,0.86],[1498.14,0.96],[1498.4,0.94],[1498.66,0.91],[1498.93,0.88],[1499.19,0.86],[1499.45,0.82],[1499.71,0.82],[1499.98,0.78],[1500.24,0.75],[1500.5,0.78],[1500.76,0.92],[1501.03,0.91],[1501.29,0.82],[1501.55,0.69],[1501.81,0.59],[1502.08,0.75],[1502.34,0.91],[1502.6,0.89],[1502.86,0.88],[1503.13,0.80],[1503.39,0.83],[1503.65,0.88],[1503.91,0.85],[1504.18,0.75],[1504.44,0.70],[1504.7,0.75],[1504.96,0.88],[1505.23,0.89],[1505.49,0.85],[1505.75,0.77],[1506.01,0.75],[1506.28,0.93],[1506.54,1.00],[1506.8,1.00],[1507.06,0.99],[1507.33,0.96],[1507.59,0.93],[1507.85,0.92],[1508.11,0.93],[1508.38,0.96],[1508.64,0.94],[1508.9,0.91],[1509.16,0.96],[1509.43,0.97],[1509.69,0.96],[1509.95,0.98],[1510.21,0.99],[1510.48,0.97],[1510.74,0.89],[1511.0,0.78],[1511.26,0.74],[1511.53,0.82],[1511.79,0.88],[1512.05,0.86],[1512.31,0.85],[1512.58,0.84],[1512.84,0.86],[1513.1,0.88],[1513.36,0.83],[1513.63,0.88],[1513.89,0.94],[1514.15,0.98],[1514.41,0.94],[1514.68,0.85],[1514.94,0.77],[1515.2,0.83],[1515.46,0.88],[1515.73,0.80],[1515.99,0.78],[1516.25,0.75],[1516.51,0.72],[1516.78,0.80],[1517.04,0.91],[1517.3,0.97],[1517.56,0.94],[1517.83,0.83],[1518.09,0.88],[1518.35,0.97],[1518.61,0.96],[1518.88,0.94],[1519.14,0.91],[1519.4,0.89],[1519.66,0.88],[1519.93,0.91],[1520.19,0.96],[1520.45,1.00],
[1520.7,1.00],[1520.97,0.99],[1521.23,0.96],[1521.49,0.94],[1521.75,0.97],[1522.02,0.99],[1522.28,1.00],[1522.54,1.00],[1522.8,0.99],[1523.07,0.99],[1523.33,0.94],[1523.59,0.85],[1523.85,0.72],[1524.12,0.70],[1524.38,0.82],[1524.64,0.85],[1524.9,0.77],[1525.17,0.63],[1525.43,0.69],[1525.69,0.72],[1525.95,0.66],[1526.22,0.63],[1526.48,0.64],[1526.74,0.61],[1527.0,0.69],[1527.27,0.83],[1527.53,0.89],[1527.79,0.85],[1528.05,0.80],[1528.32,0.83],[1528.58,0.89],[1528.84,0.90],[1529.1,0.94],[1529.37,0.93],[1529.63,0.85],[1529.89,0.69],[1530.15,0.53],[1530.31,0.46],[1530.57,0.69],[1530.78,0.85],[1530.94,0.89],[1531.2,0.75],[1531.47,0.59],[1531.73,0.63],[1531.99,0.66],[1532.25,0.59],[1532.52,0.48],[1532.78,0.39],[1533.04,0.42],[1533.3,0.53],[1533.57,0.55],[1533.83,0.50],[1534.09,0.59],[1534.35,0.75],[1534.62,0.91],[1534.88,0.96],[1535.14,0.91],[1535.4,0.75],[1535.67,0.69],[1535.93,0.72],[1536.19,0.66],[1536.45,0.41],[1536.72,0.22],[1536.98,0.09],[1537.24,0.02],[1537.5,0.003],[1539.08,0.0],[1541.18,0.005],[1542.23,0.02],[1543.28,0.08],
[1544.33,0.16],[1544.85,0.22],[1545.38,0.26],[1545.9,0.32],[1546.43,0.37],[1546.95,0.44],[1547.48,0.52],[1548.0,0.61],[1548.53,0.74],[1549.05,0.86],[1549.58,0.94],[1549.84,0.97],[1550.1,1.00],[1550.37,1.04],[1550.63,1.06],[1550.89,1.03],[1551.15,0.97],[1551.42,1.02],[1551.68,1.05],[1551.94,1.02],[1552.2,0.97],[1552.47,0.95],[1552.73,0.98],[1552.99,0.96],[1553.25,0.99],[1553.52,1.10],[1553.78,1.17],[1554.04,1.15],[1554.3,1.08],[1554.57,1.00],[1554.83,0.96],[1555.09,0.97],[1555.35,1.04],[1555.62,0.93],[1555.88,0.83],[1556.14,0.80],[1556.4,0.78],[1556.67,0.97],[1556.93,0.99],[1557.19,0.80],[1557.45,0.69],[1557.72,0.82],[1557.98,0.96],[1558.24,1.00],[1558.5,0.91],[1558.77,0.75],[1559.03,0.61],[1559.29,0.66],[1559.55,0.83],[1559.82,0.90],[1560.08,0.75],[1560.34,0.53],[1560.6,0.48],[1560.87,0.63],[1561.13,0.64],[1561.39,0.64],[1561.65,0.77],[1561.92,0.90],[1562.18,0.75],[1562.44,0.48],[1562.7,0.43],[1562.97,0.53],[1563.23,0.56],[1563.49,0.55],[1563.75,0.69],[1564.02,0.70],[1564.28,0.61],[1564.54,0.55],[1564.8,0.66],[1565.07,0.78],[1565.33,0.88],[1565.59,0.80],[1565.85,0.66],[1566.12,0.50],[1566.38,0.41],[1566.64,0.36],[1566.9,0.53],[1567.17,0.75],[1567.43,0.88],[1567.69,0.86],[1567.95,0.75],[1568.22,0.61],[1568.48,0.52],[1568.74,0.58],[1569.0,0.59],[1569.27,0.56],[1569.53,0.66],[1569.79,0.82],[1570.05,0.83]
];

// ---------- drawing ----------
const W = 1351, H = 476;
const plot = {left: 73, right: 1343, top: 22, bottom: 361};
const svg = d3.select("#chart");
const x = d3.scaleLinear().domain(wlDomain).range([plot.left, plot.right]);
const y = d3.scaleLinear().domain(fluxDomain).range([plot.bottom, plot.top]);
const FS = 31, TICK = 8;

svg.append("clipPath").attr("id", "clip").append("rect")
  .attr("x", plot.left).attr("y", plot.top)
  .attr("width", plot.right - plot.left).attr("height", plot.bottom - plot.top);

const line = d3.line().x(d => x(d[0])).y(d => y(d[1]));
const g = svg.append("g").attr("clip-path", "url(#clip)");
const styles = [
  {data: dadosIUE, color: "#ff0000", w: 1},
  {data: beta10, color: "#0000ff", w: 1.1},
  {data: beta03, color: "#000000", w: 1.8}
];
styles.forEach(s => {
  g.append("path").datum(s.data).attr("d", line)
    .attr("fill", "none").attr("stroke", s.color)
    .attr("stroke-width", s.w).attr("stroke-linejoin", "round");
});

// axes (ticks pointing inward on all four sides)
const fmt = d => String(+d.toFixed(1));
const ax = svg.append("g").attr("transform", `translate(0,${plot.bottom})`)
  .call(d3.axisBottom(x).tickValues(wlTicks).tickSize(-TICK).tickFormat(d3.format("d")));
ax.selectAll("text").attr("y", 51).attr("dy", 0).attr("dx", 5)
  .style("font-size", FS + "px").style("font-family", '"Liberation Serif",serif');
svg.append("g").attr("transform", `translate(0,${plot.top})`)
  .call(d3.axisTop(x).tickValues(wlTicks).tickSize(-TICK).tickFormat(""));
const ay = svg.append("g").attr("transform", `translate(${plot.left},0)`)
  .call(d3.axisLeft(y).tickValues(fluxTicks).tickSize(-TICK).tickFormat(fmt));
ay.selectAll("text").attr("x", -23).attr("dy", "0.40em")
  .style("font-size", FS + "px").style("font-family", '"Liberation Serif",serif');
svg.append("g").attr("transform", `translate(${plot.right},0)`)
  .call(d3.axisRight(y).tickValues(fluxTicks).tickSize(-TICK).tickFormat(""));
svg.selectAll(".domain").remove();
svg.selectAll(".tick line").attr("stroke", "#000").attr("stroke-width", 1.2);

svg.append("rect").attr("x", plot.left).attr("y", plot.top)
  .attr("width", plot.right - plot.left).attr("height", plot.bottom - plot.top)
  .attr("fill", "none").attr("stroke", "#000").attr("stroke-width", 1.3);

// axis title
svg.append("text").attr("x", (plot.left + plot.right) / 2 - 1).attr("y", 466)
  .attr("text-anchor", "middle").style("font-size", "32px").style("font-weight", "bold")
  .attr("textLength", 421).attr("lengthAdjust", "spacingAndGlyphs")
  .text("Comprimento de Onda (Å)");

// line identifications
function ion(xs, ys, el) {
  const t = svg.append("text").attr("x", xs).attr("y", ys).style("font-size", "32px");
  t.append("tspan").text(el);
  t.append("tspan").attr("dx", 9).style("font-size", "22px").text("IV");
}
ion(220, 108, "Si");
ion(1141, 108, "C");

// legend
const legY = [258, 296, 334];
const legW = [173, 280, 280];
const legColors = ["#ff0000", "#0000ff", "#111"];
const legSW = [1, 1.1, 1.6];
seriesNames.forEach((name, i) => {
  const t = svg.append("text").attr("x", 815).attr("y", legY[i] + 12)
    .attr("text-anchor", "end").style("font-size", FS + "px")
    .attr("textLength", legW[i]).attr("lengthAdjust", "spacingAndGlyphs");
  if (name.startsWith("β")) {
    t.append("tspan").style("font-style", "italic").text("β");
    t.append("tspan").text(name.slice(1));
  } else {
    t.text(name);
  }
  svg.append("line").attr("x1", 840).attr("x2", 938)
    .attr("y1", legY[i]).attr("y2", legY[i])
    .attr("stroke", legColors[i]).attr("stroke-width", legSW[i]);
});
</script>
</body></html>
